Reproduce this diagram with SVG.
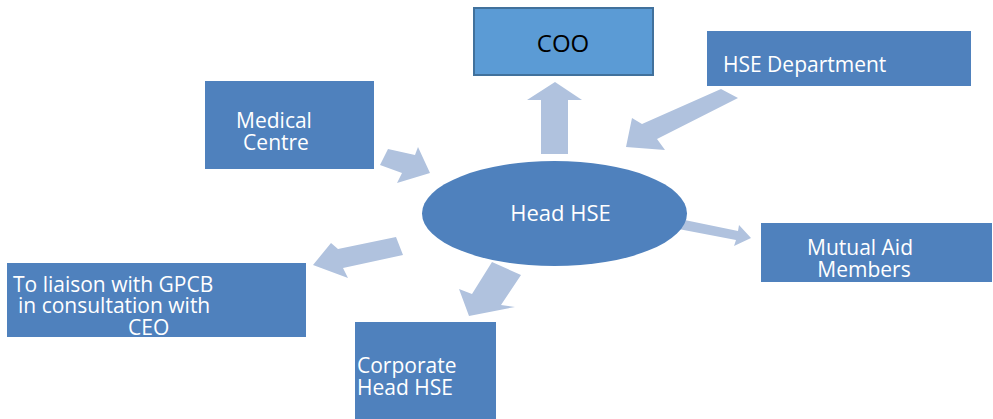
<svg xmlns="http://www.w3.org/2000/svg" width="993" height="419" viewBox="0 0 993 419">
<style>
.box{fill:#4F81BD;}
.coo{fill:#5B9BD5;stroke:#41719C;stroke-width:2;}
.arrow{fill:#B0C2DE;}
.t{font-family:"Open Sans","Liberation Sans",sans-serif;font-size:21px;fill:#FFFFFF;}
.m{text-anchor:middle;}
</style>
<rect width="993" height="419" fill="#FFFFFF"/>
<g id="connectors">
<polygon class="arrow" points="541,154 568,154 568,100 582,100 555,82 527,100 541,100"/>
<polygon class="arrow" points="721,89 738,98 657,139 665,150 626,147 632,118 642,124"/>
<polygon class="arrow" points="388,149 415,155 418,147 430,173 397,183 402,173 380,165"/>
<polygon class="arrow" points="396,237 403,255 343,268 348,278 313,265 331,243 338,249"/>
<polygon class="arrow" points="492,262 521,275 501,305 515,307 469,316 459,289 472,294"/>
<polygon class="arrow" points="670,217 738,231 739,225 751,238 734,246 736,240 668,227"/>
</g>
<g id="coo">
<rect class="coo" x="474" y="8" width="179" height="67"/>
<text x="563" y="52" class="m" style="font-family:'Open Sans','Liberation Sans',sans-serif;font-size:24px;fill:#000000">COO</text>
</g>
<g id="hse-department">
<rect class="box" x="707" y="31" width="264" height="55"/>
<text class="t" x="723" y="72">HSE Department</text>
</g>
<g id="medical-centre">
<rect class="box" x="205" y="81" width="169" height="88"/>
<text class="t m" x="274" y="128">Medical</text>
<text class="t m" x="276" y="150">Centre</text>
</g>
<g id="head-hse">
<ellipse class="box" cx="554.5" cy="213.5" rx="132.5" ry="52.5"/>
<text class="t m" x="560.5" y="221" style="font-size:22px">Head HSE</text>
</g>
<g id="mutual-aid">
<rect class="box" x="761" y="223" width="231" height="59"/>
<text class="t m" x="860" y="255">Mutual Aid</text>
<text class="t m" x="864" y="277">Members</text>
</g>
<g id="gpcb">
<rect class="box" x="7" y="263" width="299" height="74"/>
<text class="t" x="13" y="292">To liaison with GPCB</text>
<text class="t" x="18" y="313">in consultation with</text>
<text class="t" x="128" y="335">CEO</text>
</g>
<g id="corporate-head-hse">
<rect class="box" x="355" y="322" width="141" height="97"/>
<text class="t" x="357" y="373">Corporate</text>
<text class="t" x="357" y="395">Head HSE</text>
</g>
</svg>
